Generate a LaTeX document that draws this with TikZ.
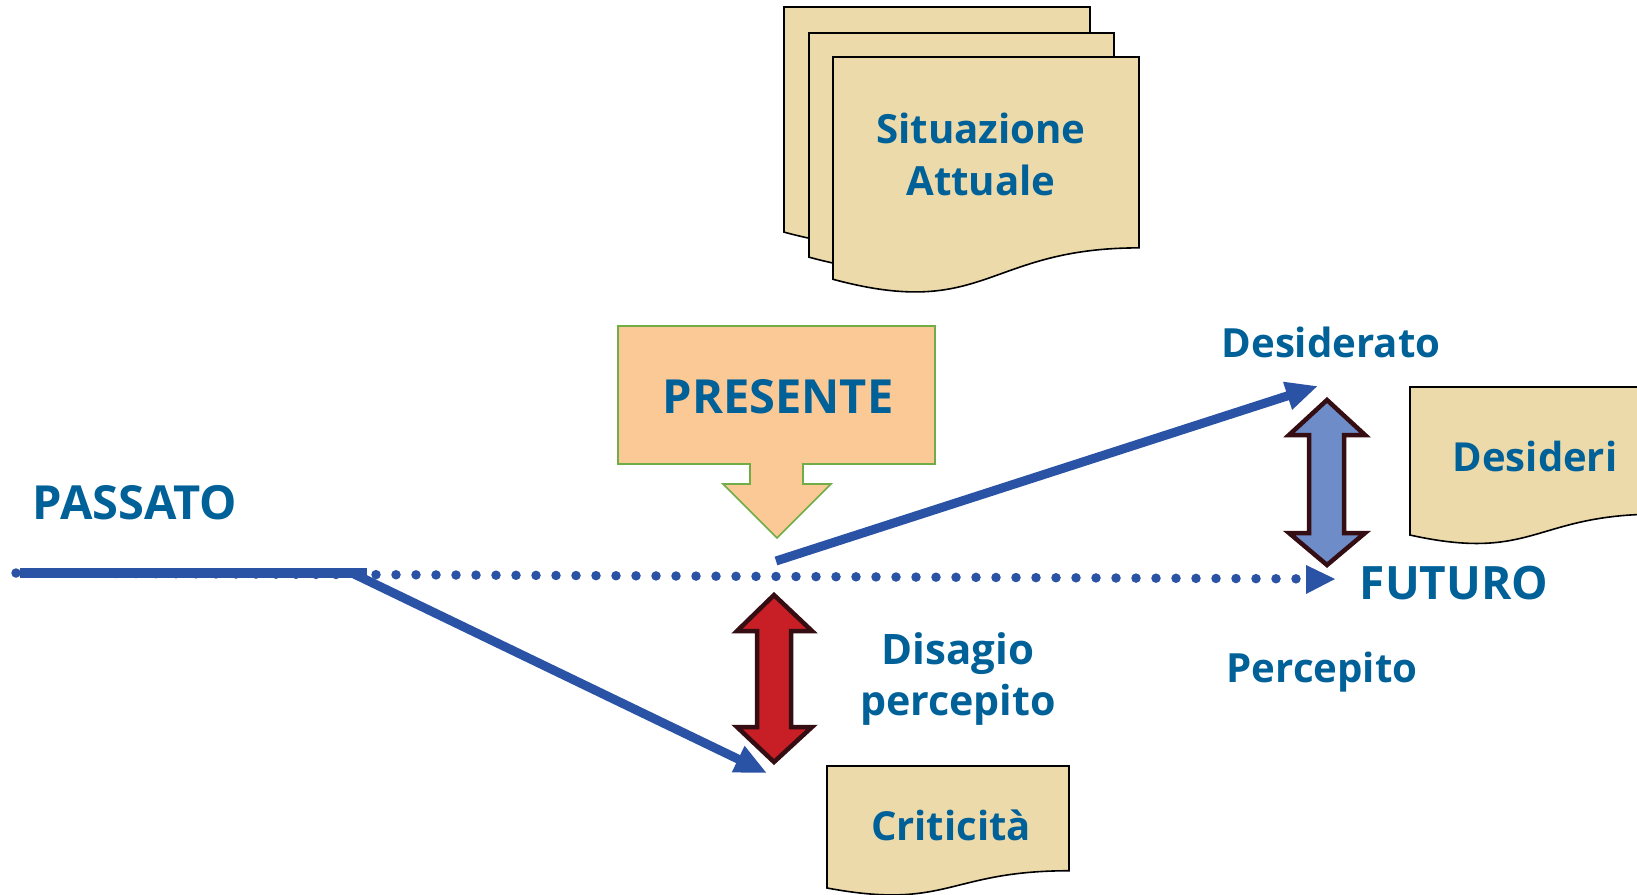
\documentclass[tikz,border=0pt]{standalone}
\usepackage{fontspec}
\setmainfont{Open Sans}
\usetikzlibrary{arrows.meta,calc}
\definecolor{tblue}{RGB}{0,96,152}
\definecolor{ablue}{RGB}{42,82,165}
\definecolor{peach}{RGB}{250,201,150}
\definecolor{cgreen}{RGB}{112,173,71}
\definecolor{ared}{RGB}{200,30,38}
\definecolor{dbrown}{RGB}{52,14,18}
\definecolor{lblue}{RGB}{110,140,200}
\definecolor{papyrus}{RGB}{236,218,170}
\newcommand\fsz[1]{\fontsize{#1}{#1}\selectfont\bfseries}
\newcommand\papdoc[4]{\filldraw[doc] (#1,#2) -- ({#1+#3},#2) -- ({#1+#3},{#2+0.802*#4}) .. controls ({#1+0.5*#3},{#2+0.802*#4}) and ({#1+0.5*#3},{#2+1.107*#4}) .. (#1,{#2+0.934*#4}) -- cycle;}
\tikzset{
  doc/.style={fill=papyrus, draw=black, line width=1.6pt, line join=miter},
  lbl/.style={text=tblue, inner sep=0pt, anchor=base},
  bline/.style={draw=ablue, line width=9pt, -{Triangle[length=32pt,width=27pt]}},
  dotline/.style={draw=ablue, line width=9.5pt, line cap=round, dash pattern=on 0pt off 20pt},
  dblarrow/.style={draw=dbrown, line width=4.5pt, line join=miter},
  callout/.style={fill=peach, draw=cgreen, line width=1.6pt}
}
\begin{document}
\begin{tikzpicture}[x=1pt,y=-1pt]
\useasboundingbox (0,0) rectangle (1637,894);
\clip (0,0) rectangle (1637,894);
% documents
\papdoc{784}{7}{306}{241}
\papdoc{809}{33}{305}{240}
\papdoc{833}{57}{306}{238}
\papdoc{1410}{387}{248}{158.5}
\papdoc{827}{766}{242}{130.6}
% callout
\filldraw[callout] (618,326) -- (935,326) -- (935,464) -- (803,464) -- (803,484) -- (831,484) -- (777,538) -- (723,484) -- (750,484) -- (750,464) -- (618,464) -- cycle;
% double arrows
\filldraw[dblarrow, fill=ared] (774,595) -- (812,631) -- (791,631) -- (791,727) -- (812,727) -- (774,762) -- (737,727) -- (757,727) -- (757,631) -- (737,631) -- cycle;
\filldraw[dblarrow, fill=lblue] (1327,400) -- (1365,435) -- (1344,435) -- (1344,533) -- (1365,533) -- (1327,565) -- (1289,533) -- (1309,533) -- (1309,435) -- (1289,435) -- cycle;
% coordinates
\coordinate (d0) at (16,573);
\coordinate (ftip) at (1335,579);
\coordinate (s0) at (20,573);
\coordinate (s1) at (367,573);
\coordinate (s2) at (352,573);
\coordinate (ctip) at (767,773);
\coordinate (r0) at (776,561);
\coordinate (dtip) at (1318,386);
% lines
\draw[dotline] (d0) -- ($(d0)!0.985!(ftip)$);
\fill[ablue] (ftip) -- (1306,565) -- (1306,594) -- cycle;
\draw[draw=ablue, line width=9.5pt] (s0) -- (s1);
\draw[bline] (s2) -- (ctip);
\draw[bline] (r0) -- (dtip);
% texts
\node[lbl, font=\fsz{40.2}] (sit1) at (981,143) {Situazione};
\node[lbl, font=\fsz{40.2}] (sit2) at (981,195) {Attuale};
\node[lbl, font=\fsz{47}] (pres) at (778,413) {PRESENTE};
\node[lbl, font=\fsz{47}] (pass) at (135,519) {PASSATO};
\node[lbl, font=\fsz{42}] (dis1) at (958,664) {Disagio};
\node[lbl, font=\fsz{41.2}] (dis2) at (958,715) {percepito};
\node[lbl, font=\fsz{40}] (crit) at (951,840) {Criticità};
\node[lbl, font=\fsz{40}] (des) at (1535,471) {Desideri};
\node[lbl, font=\fsz{46}] (futuro) at (1454,599) {FUTURO};
\node[lbl, font=\fsz{40.2}] (desid) at (1331,357) {Desiderato};
\node[lbl, font=\fsz{40.2}] (perc) at (1322,682) {Percepito};
\end{tikzpicture}
\end{document}
